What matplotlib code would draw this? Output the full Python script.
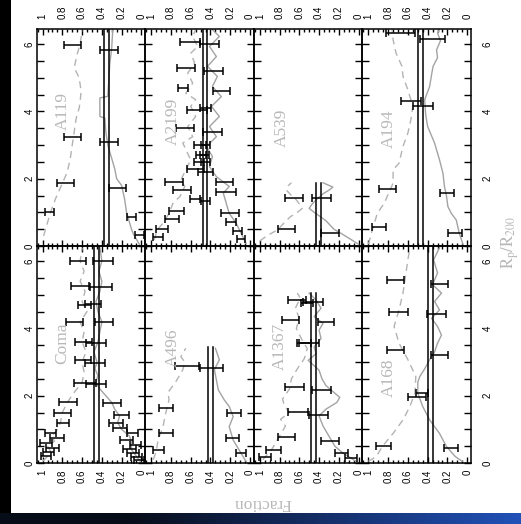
import numpy as np
import matplotlib
matplotlib.use("Agg")
import matplotlib.pyplot as plt
from matplotlib.ticker import MultipleLocator, FixedLocator, FuncFormatter

# ---------------------------------------------------------------------------
# Data: early/late type fractions versus projected radius Rp/R200
# "dash" = early-type running fraction, "solid" = late-type running fraction
# bars_* = binned fractions with errors
# ---------------------------------------------------------------------------
top_clusters = ["A119", "A2199", "A539", "A194"]
bottom_clusters = ["Coma", "A496", "A1367", "A168"]

# two global fraction levels per cluster and the radial extent of the sample
level_a = {"A119": 0.38, "A2199": 0.48, "A539": 0.43, "A194": 0.50,
           "Coma": 0.48, "A496": 0.42, "A1367": 0.48, "A168": 0.40}
level_b = {"A119": 0.33, "A2199": 0.43, "A539": 0.38, "A194": 0.45,
           "Coma": 0.43, "A496": 0.37, "A1367": 0.43, "A168": 0.35}
r_extent = {"A119": 6.45, "A2199": 6.45, "A539": 1.88, "A194": 6.45,
            "Coma": 6.45, "A496": 3.44, "A1367": 5.05, "A168": 6.45}

# --- A119
a119_dash_r = [0.3, 0.6, 1.0, 1.4, 1.8, 2.2, 2.6, 3.0, 3.4, 3.8, 4.1, 4.3, 4.6, 5.0, 5.3, 5.7, 6.0, 6.4]
a119_dash_f = [0.99, 0.96, 0.92, 0.87, 0.81, 0.75, 0.72, 0.70, 0.68, 0.66, 0.63, 0.62, 0.61, 0.63, 0.68, 0.65, 0.62, 0.60]
a119_solid_r = [0.05, 0.35, 0.5, 0.8, 1.0, 1.4, 1.8, 2.0, 2.3, 2.6, 3.0, 3.4, 3.8, 3.85, 4.4, 4.45, 4.9, 5.4, 5.9, 6.4]
a119_solid_f = [0.02, 0.08, 0.10, 0.13, 0.15, 0.17, 0.20, 0.25, 0.27, 0.30, 0.34, 0.36, 0.37, 0.42, 0.42, 0.34, 0.33, 0.32, 0.30, 0.29]
a119_bars_dash_r = [1.02, 1.86, 3.25, 5.97]
a119_bars_dash_f = [0.93, 0.77, 0.70, 0.70]
a119_bars_dash_e = [0.05, 0.085, 0.085, 0.085]
a119_bars_solid_r = [0.33, 0.87, 1.72, 3.10, 5.83]
a119_bars_solid_f = [0.02, 0.10, 0.245, 0.33, 0.33]
a119_bars_solid_e = [0.045, 0.05, 0.085, 0.09, 0.09]

# --- A2199
a2199_dash_r = [0.18, 0.48, 0.68, 0.97, 1.27, 1.47, 1.77, 1.96, 2.26, 2.56, 2.81, 3.06, 3.25, 3.55, 3.85,
                4.15, 4.35, 4.54, 4.84, 5.14, 5.44, 5.73, 5.93, 6.23, 6.43]
a2199_dash_f = [0.97, 0.94, 0.88, 0.82, 0.78, 0.71, 0.66, 0.70, 0.65, 0.60, 0.64, 0.68, 0.58, 0.63, 0.55,
                0.60, 0.55, 0.65, 0.58, 0.63, 0.56, 0.60, 0.53, 0.58, 0.55]
a2199_solid_r = [0.08, 0.38, 0.68, 0.97, 1.27, 1.57, 1.77, 2.06, 2.36, 2.66, 2.96, 3.25, 3.55, 3.85, 4.15,
                 4.44, 4.74, 5.04, 5.34, 5.63, 5.93, 6.23, 6.43]
a2199_solid_f = [0.04, 0.09, 0.14, 0.21, 0.24, 0.27, 0.21, 0.34, 0.41, 0.38, 0.44, 0.34, 0.41, 0.31, 0.39,
                 0.29, 0.38, 0.33, 0.43, 0.34, 0.41, 0.31, 0.38]
a2199_bars_dash_r = [0.28, 0.50, 0.80, 1.05, 1.40, 1.65, 1.90, 2.30, 2.50, 2.70, 3.00, 3.52, 4.05, 4.70, 5.29, 6.05]
a2199_bars_dash_f = [0.93, 0.89, 0.79, 0.745, 0.56, 0.69, 0.77, 0.55, 0.52, 0.50, 0.51, 0.655, 0.54, 0.68, 0.65, 0.61]
a2199_bars_dash_e = [0.05, 0.06, 0.07, 0.075, 0.05, 0.09, 0.09, 0.085, 0.05, 0.05, 0.06, 0.09, 0.10, 0.05, 0.09, 0.10]
a2199_bars_solid_r = [0.20, 0.45, 0.72, 0.97, 1.35, 1.60, 1.90, 2.20, 2.50, 2.70, 3.00, 3.40, 4.10, 4.60, 5.20, 6.00]
a2199_bars_solid_f = [0.09, 0.13, 0.19, 0.20, 0.45, 0.24, 0.26, 0.45, 0.45, 0.46, 0.45, 0.38, 0.45, 0.29, 0.37, 0.41]
a2199_bars_solid_e = [0.04, 0.045, 0.05, 0.09, 0.05, 0.10, 0.085, 0.08, 0.05, 0.05, 0.05, 0.10, 0.06, 0.085, 0.10, 0.10]

# --- A539
a539_dash_r = [0.15, 0.3, 0.48, 0.7, 0.87, 1.0, 1.12, 1.25, 1.37, 1.5, 1.66, 1.8, 1.88]
a539_dash_f = [1.0, 0.93, 0.82, 0.75, 0.69, 0.62, 0.57, 0.60, 0.63, 0.68, 0.73, 0.71, 0.68]
a539_solid_r = [0.05, 0.2, 0.38, 0.5, 0.75, 0.9, 1.0, 1.12, 1.25, 1.4, 1.55, 1.66, 1.75, 1.88]
a539_solid_f = [0.0, 0.08, 0.18, 0.25, 0.33, 0.40, 0.45, 0.50, 0.47, 0.42, 0.36, 0.30, 0.26, 0.36]
a539_bars_dash_r = [0.50, 1.42]
a539_bars_dash_f = [0.73, 0.65]
a539_bars_dash_e = [0.09, 0.09]
a539_bars_solid_r = [0.38, 1.42]
a539_bars_solid_f = [0.29, 0.375]
a539_bars_solid_e = [0.09, 0.095]

# --- A194
a194_dash_r = [0.05, 0.48, 0.97, 1.27, 1.87, 2.27, 2.46, 2.96, 3.36, 3.75, 4.15, 4.64, 5.04, 5.34, 5.73, 6.13, 6.43]
a194_dash_f = [1.0, 0.96, 0.91, 0.84, 0.75, 0.75, 0.69, 0.65, 0.60, 0.57, 0.55, 0.60, 0.65, 0.66, 0.72, 0.75, 0.76]
a194_solid_r = [0.03, 0.38, 0.77, 0.97, 1.17, 1.5, 1.77, 2.16, 2.56, 3.06, 3.55, 3.9, 4.35, 4.74, 5.1, 5.34, 5.6, 5.83, 6.1, 6.33, 6.45]
a194_solid_f = [0.04, 0.08, 0.11, 0.16, 0.195, 0.21, 0.23, 0.245, 0.28, 0.33, 0.40, 0.42, 0.43, 0.38, 0.36, 0.345, 0.30, 0.31, 0.27, 0.30, 0.28]
a194_bars_dash_r = [0.55, 1.69, 4.30, 6.33]
a194_bars_dash_f = [0.89, 0.81, 0.57, 0.675]
a194_bars_dash_e = [0.07, 0.085, 0.10, 0.145]
a194_bars_solid_r = [0.38, 1.59, 4.17, 6.15]
a194_bars_solid_f = [0.12, 0.205, 0.45, 0.35]
a194_bars_solid_e = [0.07, 0.075, 0.10, 0.13]

# --- Coma
coma_dash_r = [0.05, 0.2, 0.35, 0.5, 0.65, 0.8, 0.95, 1.2, 1.5, 1.8, 2.1, 2.4, 2.7, 3.0, 3.3, 3.6, 3.9, 4.2,
               4.5, 4.8, 5.1, 5.4, 5.7, 6.0, 6.4]
coma_dash_f = [1.0, 0.95, 0.92, 0.95, 0.88, 0.91, 0.86, 0.82, 0.80, 0.75, 0.68, 0.60, 0.58, 0.60, 0.56, 0.60,
               0.58, 0.62, 0.55, 0.60, 0.57, 0.62, 0.58, 0.62, 0.60]
coma_solid_r = [0.0, 0.2, 0.4, 0.6, 0.8, 1.0, 1.2, 1.4, 1.6, 1.8, 2.0, 2.2, 2.4, 2.6, 2.8, 3.0, 3.3, 3.6, 3.9,
                4.2, 4.5, 4.8, 5.1, 5.4, 5.7, 6.0, 6.4]
coma_solid_f = [0.0, 0.05, 0.10, 0.10, 0.12, 0.20, 0.24, 0.22, 0.27, 0.30, 0.36, 0.42, 0.46, 0.44, 0.47, 0.45,
                0.48, 0.44, 0.42, 0.40, 0.44, 0.46, 0.42, 0.40, 0.43, 0.40, 0.42]
coma_bars_dash_r = [0.22, 0.34, 0.44, 0.58, 0.73, 0.88, 1.18, 1.48, 1.82, 2.39, 3.07, 3.61, 4.20, 4.70, 5.27, 6.00]
coma_bars_dash_f = [0.97, 0.94, 0.90, 0.97, 0.855, 0.92, 0.79, 0.80, 0.74, 0.57, 0.59, 0.585, 0.675, 0.575, 0.62, 0.64]
coma_bars_dash_e = [0.05, 0.06, 0.07, 0.06, 0.075, 0.06, 0.06, 0.085, 0.09, 0.11, 0.08, 0.09, 0.085, 0.065, 0.09, 0.08]
coma_bars_solid_r = [0.09, 0.19, 0.29, 0.41, 0.54, 0.69, 0.89, 1.03, 1.18, 1.43, 1.77, 2.35, 2.97, 3.56, 4.20,
                     4.73, 5.23, 6.00]
coma_bars_solid_f = [0.02, 0.045, 0.085, 0.12, 0.06, 0.15, 0.09, 0.22, 0.255, 0.20, 0.30, 0.46, 0.47, 0.46, 0.38,
                     0.49, 0.41, 0.39]
coma_bars_solid_e = [0.05, 0.055, 0.065, 0.07, 0.06, 0.07, 0.06, 0.07, 0.07, 0.075, 0.09, 0.10, 0.10, 0.10, 0.09,
                     0.08, 0.11, 0.10]

# --- A496
a496_dash_r = [0.1, 0.34, 0.7, 1.08, 1.4, 1.64, 1.875, 2.1, 2.42, 2.77, 3.0, 3.16, 3.41]
a496_dash_f = [0.98, 0.95, 0.93, 0.88, 0.86, 0.84, 0.82, 0.83, 0.75, 0.68, 0.66, 0.70, 0.65]
a496_solid_r = [0.05, 0.29, 0.68, 1.08, 1.38, 1.68, 1.875, 2.17, 2.47, 2.77, 3.07, 3.41]
a496_solid_f = [0.04, 0.09, 0.17, 0.21, 0.17, 0.21, 0.26, 0.32, 0.34, 0.36, 0.31, 0.35]
a496_bars_dash_r = [0.39, 0.88, 1.63, 2.87]
a496_bars_dash_f = [0.925, 0.85, 0.85, 0.635]
a496_bars_dash_e = [0.055, 0.075, 0.075, 0.12]
a496_bars_solid_r = [0.29, 0.73, 1.48, 2.82]
a496_bars_solid_f = [0.09, 0.175, 0.16, 0.39]
a496_bars_solid_e = [0.05, 0.065, 0.07, 0.12]

# --- A1367
a1367_dash_r = [0.1, 0.4, 0.8, 1.1, 1.3, 1.5, 1.7, 1.9, 2.2, 2.5, 2.8, 3.1, 3.4, 3.7, 4.0, 4.3, 4.6, 4.9, 5.05]
a1367_dash_f = [0.97, 0.88, 0.80, 0.74, 0.79, 0.70, 0.75, 0.77, 0.70, 0.68, 0.62, 0.55, 0.52, 0.58, 0.63, 0.60,
                0.64, 0.59, 0.62]
a1367_solid_r = [0.0, 0.15, 0.3, 0.5, 0.65, 0.9, 1.1, 1.4, 1.6, 1.8, 1.95, 2.1, 2.3, 2.5, 2.76, 3.05, 3.25, 3.45,
                 3.7, 3.95, 4.15, 4.35, 4.6, 4.84, 5.05]
a1367_solid_f = [0.0, 0.08, 0.16, 0.24, 0.27, 0.32, 0.36, 0.40, 0.33, 0.22, 0.19, 0.25, 0.33, 0.37, 0.40, 0.51,
                 0.43, 0.45, 0.38, 0.40, 0.36, 0.45, 0.38, 0.43, 0.50]
a1367_bars_dash_r = [0.19, 0.39, 0.78, 1.53, 2.27, 3.56, 4.26, 4.75, 4.85]
a1367_bars_dash_f = [0.95, 0.865, 0.73, 0.61, 0.645, 0.55, 0.69, 0.52, 0.62]
a1367_bars_dash_e = [0.06, 0.075, 0.09, 0.10, 0.095, 0.07, 0.09, 0.06, 0.09]
a1367_bars_solid_r = [0.14, 0.31, 0.64, 1.43, 2.17, 3.58, 4.20, 4.80]
a1367_bars_solid_f = [0.08, 0.175, 0.29, 0.405, 0.375, 0.50, 0.33, 0.46]
a1367_bars_solid_e = [0.06, 0.065, 0.09, 0.095, 0.095, 0.10, 0.085, 0.10]

# --- A168
a168_dash_r = [0.05, 0.19, 0.49, 0.88, 1.28, 1.68, 2.07, 2.57, 3.07, 3.56, 4.06, 4.55, 5.05, 5.65, 6.04, 6.4]
a168_dash_f = [1.0, 0.92, 0.86, 0.75, 0.65, 0.58, 0.53, 0.52, 0.60, 0.69, 0.74, 0.69, 0.65, 0.62, 0.60, 0.58]
a168_solid_r = [0.05, 0.19, 0.49, 0.88, 1.28, 1.68, 2.07, 2.4, 2.57, 2.8, 3.07, 3.3, 3.56, 3.8, 4.06, 4.3, 4.55,
                4.8, 5.05, 5.3, 5.65, 6.04, 6.4]
a168_solid_f = [0.05, 0.12, 0.21, 0.28, 0.38, 0.45, 0.50, 0.50, 0.48, 0.43, 0.38, 0.33, 0.30, 0.26, 0.30, 0.36,
                0.28, 0.33, 0.26, 0.35, 0.30, 0.34, 0.28]
a168_bars_dash_r = [0.51, 1.97, 3.36, 4.50, 5.43]
a168_bars_dash_f = [0.845, 0.51, 0.725, 0.695, 0.725]
a168_bars_dash_e = [0.075, 0.09, 0.085, 0.095, 0.085]
a168_bars_solid_r = [0.44, 2.07, 3.21, 4.43, 5.33]
a168_bars_solid_f = [0.16, 0.46, 0.28, 0.31, 0.28]
a168_bars_solid_e = [0.07, 0.06, 0.09, 0.095, 0.09]

# panel label placement (fraction, radius)
label_pos = {"A119": (0.80, 4.0), "A2199": (0.78, 3.7), "A539": (0.78, 3.5), "A194": (0.79, 3.5),
             "Coma": (0.80, 3.55), "A496": (0.78, 3.42), "A1367": (0.80, 3.45), "A168": (0.79, 2.53)}

series = {
    "A119": (a119_dash_r, a119_dash_f, a119_solid_r, a119_solid_f,
             (a119_bars_dash_r, a119_bars_dash_f, a119_bars_dash_e),
             (a119_bars_solid_r, a119_bars_solid_f, a119_bars_solid_e)),
    "A2199": (a2199_dash_r, a2199_dash_f, a2199_solid_r, a2199_solid_f,
              (a2199_bars_dash_r, a2199_bars_dash_f, a2199_bars_dash_e),
              (a2199_bars_solid_r, a2199_bars_solid_f, a2199_bars_solid_e)),
    "A539": (a539_dash_r, a539_dash_f, a539_solid_r, a539_solid_f,
             (a539_bars_dash_r, a539_bars_dash_f, a539_bars_dash_e),
             (a539_bars_solid_r, a539_bars_solid_f, a539_bars_solid_e)),
    "A194": (a194_dash_r, a194_dash_f, a194_solid_r, a194_solid_f,
             (a194_bars_dash_r, a194_bars_dash_f, a194_bars_dash_e),
             (a194_bars_solid_r, a194_bars_solid_f, a194_bars_solid_e)),
    "Coma": (coma_dash_r, coma_dash_f, coma_solid_r, coma_solid_f,
             (coma_bars_dash_r, coma_bars_dash_f, coma_bars_dash_e),
             (coma_bars_solid_r, coma_bars_solid_f, coma_bars_solid_e)),
    "A496": (a496_dash_r, a496_dash_f, a496_solid_r, a496_solid_f,
             (a496_bars_dash_r, a496_bars_dash_f, a496_bars_dash_e),
             (a496_bars_solid_r, a496_bars_solid_f, a496_bars_solid_e)),
    "A1367": (a1367_dash_r, a1367_dash_f, a1367_solid_r, a1367_solid_f,
              (a1367_bars_dash_r, a1367_bars_dash_f, a1367_bars_dash_e),
              (a1367_bars_solid_r, a1367_bars_solid_f, a1367_bars_solid_e)),
    "A168": (a168_dash_r, a168_dash_f, a168_solid_r, a168_solid_f,
             (a168_bars_dash_r, a168_bars_dash_f, a168_bars_dash_e),
             (a168_bars_solid_r, a168_bars_solid_f, a168_bars_solid_e)),
}

# ---------------------------------------------------------------------------
plt.rcParams["font.family"] = ["Liberation Sans", "DejaVu Sans"]
plt.rcParams["mathtext.fontset"] = "stix"

W, H = 521, 524
fig = plt.figure(figsize=(W / 100, H / 100), dpi=100)
fig.patch.set_facecolor("white")


def px_axes(x0, y0, w, h, **kw):
    return fig.add_axes([x0 / W, 1 - (y0 + h) / H, w / W, h / H], **kw)


# slide frame: dark strip on the left, gradient bar along the bottom
frame = px_axes(0, 0, W, H, zorder=-10)
frame.set_xlim(0, W)
frame.set_ylim(H, 0)
frame.axis("off")
frame.add_patch(plt.Rectangle((0, 0), 11, H, color="black", lw=0))
grad = np.linspace(0, 1, 256)
bar_cols = np.zeros((1, 256, 3))
dark = np.array([0.03, 0.05, 0.10])
blue = np.array([0.13, 0.32, 0.72])
t = np.clip((grad - 0.25) / 0.75, 0, 1)
bar_cols[0] = dark[None, :] * (1 - t[:, None]) + blue[None, :] * t[:, None]
frame.imshow(bar_cols, extent=(0, W, H, 513), aspect="auto", zorder=2)

GRAY_D = "#b3b3b3"
GRAY_S = "#a3a3a3"
LABEL_GRAY = "#b8b8b8"

panel_w = 108.6
panel_h = 217.0
x_left = 36.7
rows = [(29.0, top_clusters, "top"), (246.0, bottom_clusters, "bottom")]


def frac_fmt(v, _):
    if abs(v - 1) < 1e-6:
        return "1"
    if abs(v) < 1e-6:
        return "0"
    return f"{v:.1f}"


for y0, names, where in rows:
    for k, name in enumerate(names):
        ax = px_axes(x_left + k * panel_w, y0, panel_w, panel_h)
        ax.set_facecolor("none")
        ax.set_xlim(1.06, -0.04)
        ax.set_ylim(0, 6.45)

        dr, df, sr, sf, bd, bs = series[name]
        ax.plot(df, dr, color=GRAY_D, lw=1.0, dashes=(5, 3.5))
        ax.plot(sf, sr, color=GRAY_S, lw=1.0)
        for lev in (level_a[name], level_b[name]):
            ax.plot([lev, lev], [0, r_extent[name]], color="black", lw=1.1)
        for br, bf, be in (bd, bs):
            ax.errorbar(bf, br, xerr=be, fmt="none", ecolor="black",
                        elinewidth=1.1, capsize=2.6, capthick=1.1)

        lx, ly = label_pos[name]
        ax.text(lx, ly, name, rotation=90, ha="center", va="center",
                color=LABEL_GRAY, fontsize=12.5, family=["Liberation Serif", "DejaVu Serif"])

        for sp in ax.spines.values():
            sp.set_linewidth(1.1)

        ax.xaxis.set_major_locator(MultipleLocator(0.2))
        ax.xaxis.set_minor_locator(MultipleLocator(0.05))
        ax.xaxis.set_major_formatter(FuncFormatter(frac_fmt))
        ax.yaxis.set_major_locator(FixedLocator([0, 2, 4, 6]))
        ax.yaxis.set_minor_locator(MultipleLocator(0.5))
        ax.tick_params(which="both", direction="in", top=True, bottom=True,
                       left=True, right=True, width=1.0)
        ax.tick_params(axis="x", which="major", length=4.5)
        ax.tick_params(axis="x", which="minor", length=2.2)
        ax.tick_params(axis="y", which="both", length=5)

        if where == "top":
            ax.tick_params(axis="x", labeltop=True, labelbottom=False, pad=7.5,
                           labelrotation=90, labelsize=7)
        else:
            ax.tick_params(axis="x", labeltop=False, labelbottom=True, pad=5,
                           labelrotation=90, labelsize=7)
        ax.tick_params(axis="y", labelleft=(k == 0), labelright=(k == 3),
                       labelrotation=90, labelsize=7)
        if k == 0:
            ax.tick_params(axis="y", pad=1.5)
        if k == 3:
            ax.tick_params(axis="y", pad=8.5)
        for lab in ax.get_yticklabels():
            lab.set_va("center")

fig.text(510 / W, 1 - 242 / H, r"$\mathrm{R_p/R_{200}}$", rotation=90,
         ha="center", va="center", color=LABEL_GRAY, fontsize=12)
fig.text(262 / W, 1 - 503 / H, "Fraction", rotation=180, ha="center", va="center",
         color=LABEL_GRAY, fontsize=12.5, family=["Liberation Serif", "DejaVu Serif"])

fig.savefig("out.png", dpi=100)
